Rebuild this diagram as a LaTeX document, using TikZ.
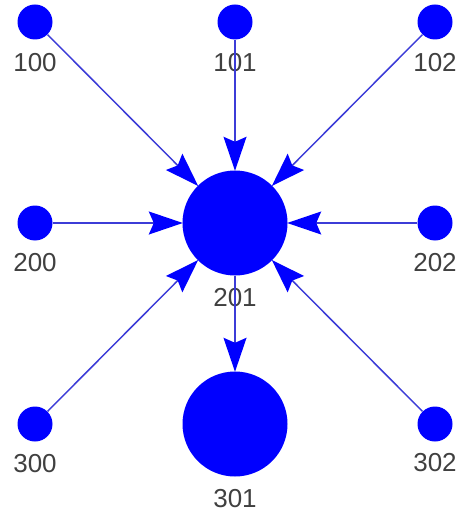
\documentclass[tikz,border=0pt]{standalone}
\usepackage{fontspec}
\setmainfont{Liberation Sans}
\usetikzlibrary{arrows.meta}
\definecolor{nodeblue}{RGB}{0,0,255}
\definecolor{edgeblue}{RGB}{60,60,215}
\definecolor{labgray}{RGB}{64,64,64}
\begin{document}
\begin{tikzpicture}[x=1pt,y=-1pt,
  small/.style={circle,fill=nodeblue,draw=none,minimum size=35pt,inner sep=0pt},
  big/.style={circle,fill=nodeblue,draw=none,minimum size=105pt,inner sep=0pt},
  lab/.style={text=labgray,font=\fontsize{26}{26}\selectfont,inner sep=0pt,anchor=center},
  edge/.style={draw=edgeblue,line width=1.5pt,-{Stealth[length=34pt,width=23pt,inset=5pt,color=nodeblue]},shorten >=-0.5pt}]
\useasboundingbox (0,0) rectangle (464,513);
% nodes
\node[small] (n100) at (35,22) {};
\node[small] (n101) at (235,22) {};
\node[small] (n102) at (435,22) {};
\node[small] (n200) at (35,223) {};
\node[big]   (n201) at (235,223) {};
\node[small] (n202) at (435,223) {};
\node[small] (n300) at (35,424) {};
\node[big]   (n301) at (235,424) {};
\node[small] (n302) at (435,424) {};
% labels
\node[lab] (l100) at (35,63) {100};
\node[lab] (l101) at (235,63) {101};
\node[lab] (l102) at (435,63) {102};
\node[lab] (l200) at (35,263) {200};
\node[lab] (l201) at (235,298) {201};
\node[lab] (l202) at (435,263) {202};
\node[lab] (l300) at (35,464) {300};
\node[lab] (l301) at (235,499) {301};
\node[lab] (l302) at (435,463) {302};
% edges
\draw[edge] (n100) -- (n201);
\draw[edge] (n101) -- (n201);
\draw[edge] (n102) -- (n201);
\draw[edge] (n200) -- (n201);
\draw[edge] (n202) -- (n201);
\draw[edge] (n300) -- (n201);
\draw[edge] (n302) -- (n201);
\draw[edge] (n201) -- (n301);
\end{tikzpicture}
\end{document}
